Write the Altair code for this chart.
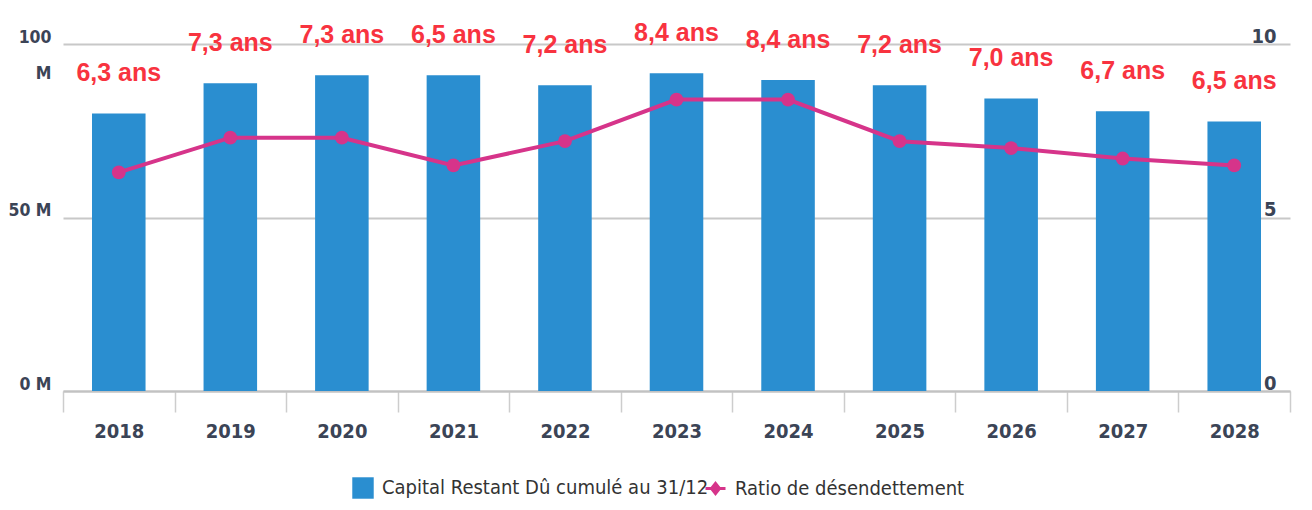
import altair as alt
import pandas as pd

years = ["2018", "2019", "2020", "2021", "2022", "2023", "2024", "2025", "2026", "2027", "2028"]
capital = [80.0, 88.7, 91.0, 91.0, 88.1, 91.6, 89.6, 88.1, 84.3, 80.6, 77.7]
ratio = [6.3, 7.3, 7.3, 6.5, 7.2, 8.4, 8.4, 7.2, 7.0, 6.7, 6.5]
ratio_labels = ["6,3 ans", "7,3 ans", "7,3 ans", "6,5 ans", "7,2 ans", "8,4 ans",
                "8,4 ans", "7,2 ans", "7,0 ans", "6,7 ans", "6,5 ans"]
left_ticks = [0, 50, 100]
right_ticks = [0, 5, 10]
series_bar = "Capital Restant Dû cumulé au 31/12"
series_line = "Ratio de désendettement"

df = pd.DataFrame({
    "annee": years,
    "capital": capital,
    "ratio": ratio,
    "label": ratio_labels,
    "s1": series_bar,
    "s2": series_line,
})

BLUE = "#2a8ed0"
MAGENTA = "#d6348a"
RED = "#f8333f"
AXFONT = "DejaVu Sans Condensed, Roboto, sans-serif"
AXCOLOR = "#3b4456"

x = alt.X(
    "annee:N", sort=years, title=None,
    scale=alt.Scale(paddingInner=0, paddingOuter=0),
    axis=alt.Axis(
        labelAngle=0, tickBand="extent", tickSize=21, tickColor="#cdcdcd", tickWidth=1.5,
        domainColor="#c2c2c2", domainWidth=2, labelFont=AXFONT, labelFontSize=20,
        labelFontWeight="bold", labelColor=AXCOLOR, labelPadding=9,
    ),
)

y_left = alt.Y(
    "capital:Q", title=None,
    scale=alt.Scale(domain=[0, 100], nice=False),
    axis=alt.Axis(
        values=left_ticks, grid=True, gridColor="#c8c8c8", gridWidth=2,
        domain=False, ticks=False,
        labelExpr="datum.value == 100 ? ['100', 'M'] : datum.value + ' M'",
        labelBaseline="alphabetic", labelLineHeight=36, labelPadding=12, labelOffset=-2,
        labelFont=AXFONT, labelFontSize=17.5, labelFontWeight="bold", labelColor=AXCOLOR,
    ),
)

y_right = alt.Y(
    "ratio:Q", title=None,
    scale=alt.Scale(domain=[0, 10], nice=False),
    axis=alt.Axis(
        orient="right", values=right_ticks, grid=False, domain=False, ticks=False,
        labelAlign="right", labelPadding=-14, labelBaseline="alphabetic", labelOffset=-2,
        labelFont=AXFONT, labelFontSize=20, labelFontWeight="bold", labelColor=AXCOLOR,
    ),
)

bars = alt.Chart(df).mark_bar(width=alt.RelativeBandSize(0.48)).encode(
    x=x,
    y=y_left,
    fill=alt.Fill(
        "s1:N",
        scale=alt.Scale(domain=[series_bar], range=[BLUE]),
        legend=alt.Legend(
            title=None, orient="none", legendX=289, legendY=433,
            symbolType="square", symbolSize=460, symbolStrokeWidth=0,
            labelFont=AXFONT, labelFontSize=20, labelColor="#333333",
            labelLimit=600, labelOffset=8,
        ),
    ),
)

texts = alt.Chart(df).mark_text(
    dy=-40, fontSize=25, fontWeight="bold", font="Liberation Sans", color=RED,
    baseline="middle", align="center",
).encode(x=x, y=y_left, text="label:N")

line = alt.Chart(df).mark_line(strokeWidth=4).encode(
    x=x,
    y=y_right,
    stroke=alt.Stroke(
        "s2:N",
        scale=alt.Scale(domain=[series_line], range=[MAGENTA]),
        legend=alt.Legend(
            title=None, orient="none", legendX=641, legendY=433,
            symbolType="M-1,0H1M0,-0.5L0.4,0L0,0.5L-0.4,0Z",
            symbolSize=400, symbolStrokeWidth=3, symbolFillColor=MAGENTA,
            labelFont=AXFONT, labelFontSize=20, labelColor="#333333",
            labelLimit=600, labelOffset=8,
        ),
    ),
)

pts = alt.Chart(df).mark_point(filled=True, size=190, shape="circle", color=MAGENTA, opacity=1).encode(
    x=x, y=y_right,
)

chart = alt.layer(
    alt.layer(bars, texts),
    alt.layer(line, pts),
).resolve_scale(
    y="independent", fill="independent", stroke="independent"
).properties(
    width=1227, height=347,
    autosize=alt.AutoSizeParams(type="none"),
    padding={"left": 55, "top": 36, "right": 12, "bottom": 108},
    background="white",
).configure_view(stroke=None)

chart.save("out.html", embed_options={"renderer": "svg", "actions": False})
